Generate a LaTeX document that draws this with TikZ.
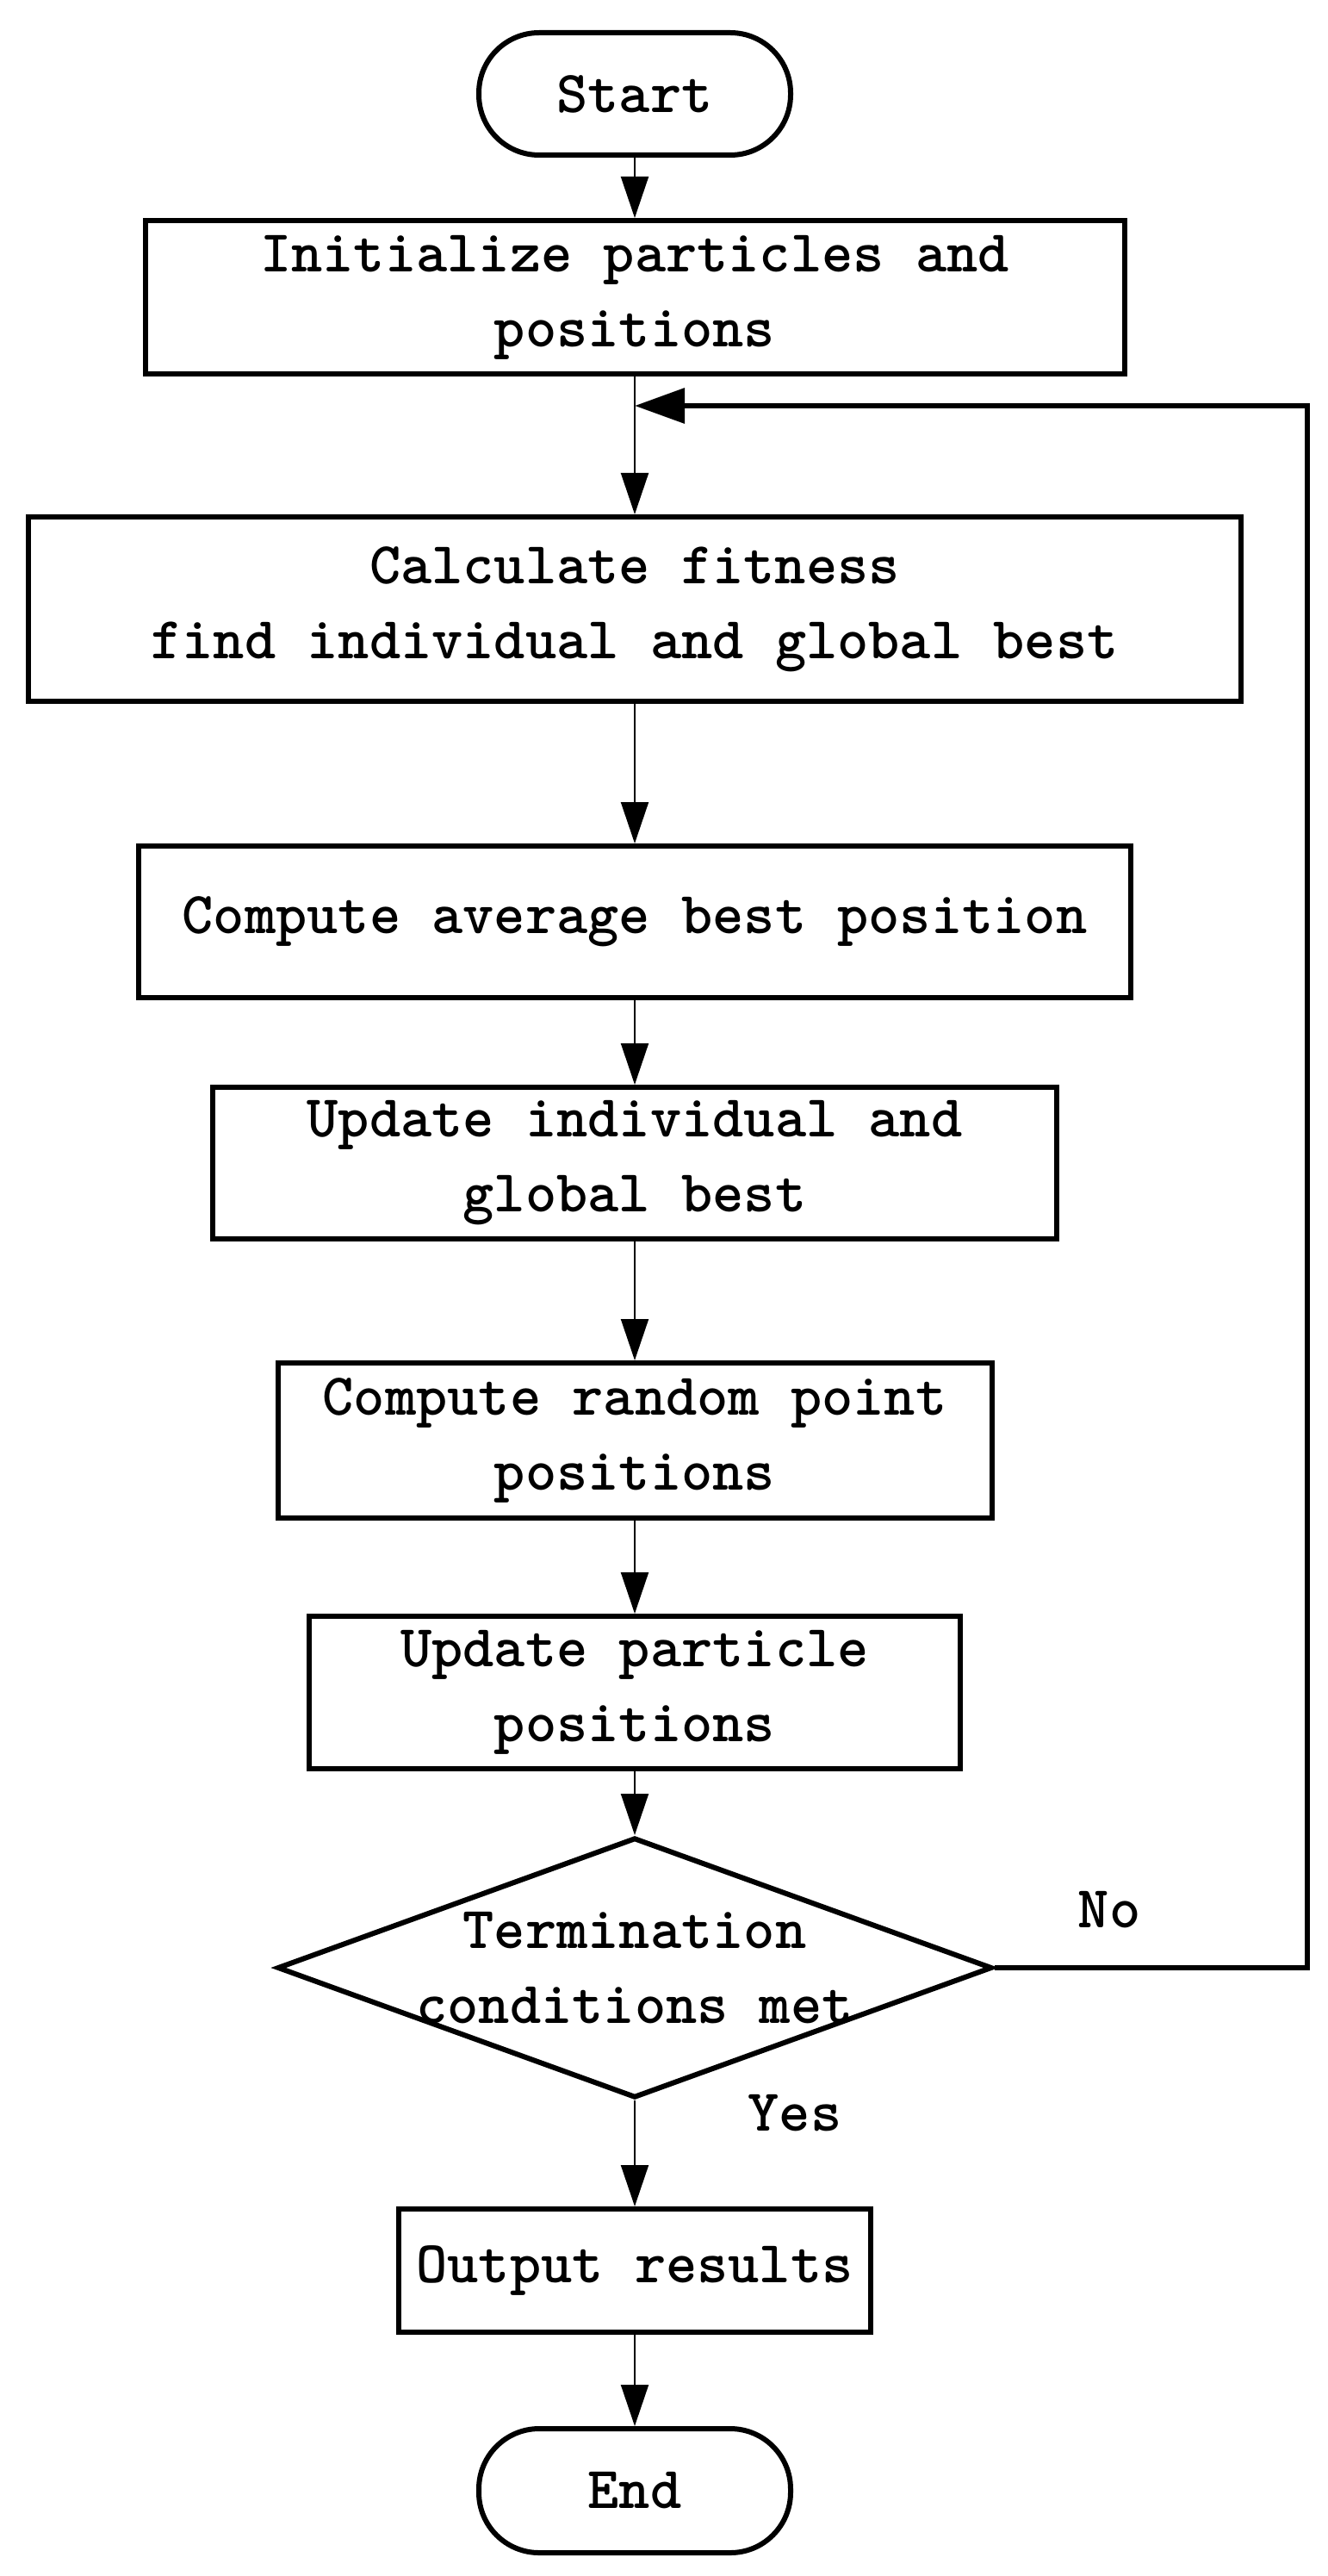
\documentclass[tikz,border=0pt]{standalone}
\usepackage{fontspec}
\usetikzlibrary{positioning,shapes.geometric,arrows.meta}

\newcommand{\fsz}{\ttfamily\bfseries\fontsize{34.5}{43.5}\selectfont}
\tikzset{
  box/.style={draw,line width=3pt,rectangle,align=center,inner sep=0pt,font=\fsz},
  term/.style={box,rounded corners=35pt},
  cond/.style={draw,line width=3pt,diamond,inner sep=0pt},
  flow/.style={-{Triangle[length=24pt,width=16pt]},line width=1pt},
  back/.style={-{Triangle[length=29pt,width=20pt]},line width=3.2pt},
}

\begin{document}
\begin{tikzpicture}

\useasboundingbox (0,0) rectangle (770.5pt,-1495pt);

\node[term,minimum width=181pt,minimum height=71pt] (start) at (368.5pt,-54.5pt) {Start};
\node[box,below=35pt of start,minimum width=568.5pt,minimum height=89pt] (init) {Initialize particles and\\positions};
\node[box,below=80pt of init,minimum width=704pt,minimum height=107pt] (calc) {Calculate fitness\\find individual and global best};
\node[box,below=81pt of calc,minimum width=576pt,minimum height=88pt] (avg) {Compute average best position};
\node[box,below=49pt of avg,minimum width=490pt,minimum height=88pt] (updind) {Update individual and\\global best};
\node[box,below=69pt of updind,minimum width=414.5pt,minimum height=90pt] (rand) {Compute random point\\positions};
\node[box,below=54pt of rand,minimum width=378pt,minimum height=88.5pt] (updpart) {Update particle\\positions};
\node[cond,below=37pt of updpart,minimum width=415pt,minimum height=151pt] (term) {};
\node[font=\fsz,align=center] (termtxt) at (term) {Termination\\conditions met};
\node[box,below=61.5pt of term,minimum width=274pt,minimum height=71.5pt] (out) {Output results};
\node[term,below=53pt of out,minimum width=181pt,minimum height=72pt] (end) {End};

\node[font=\fsz] (no) at ([xshift=66.5pt,yshift=33.5pt]term.east) {No};
\node[font=\fsz] (yes) at ([xshift=93pt,yshift=-7.5pt]term.south) {Yes};

\coordinate[below=17pt of init] (fb);

\draw[flow] (start) -- (init);
\draw[flow] (init) -- (calc);
\draw[flow] (calc) -- (avg);
\draw[flow] (avg) -- (updind);
\draw[flow] (updind) -- (rand);
\draw[flow] (rand) -- (updpart);
\draw[flow] (updpart) -- (term);
\draw[flow] (term) -- (out);
\draw[flow] (out) -- (end);
\draw[back] (term.east) -- ++(181.5pt,0) |- (fb);

\end{tikzpicture}
\end{document}
